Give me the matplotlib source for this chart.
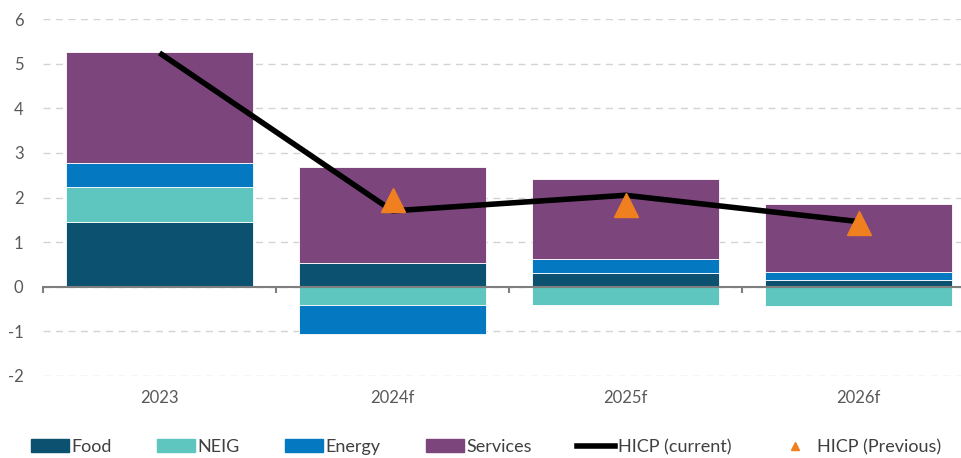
import numpy as np
import matplotlib.pyplot as plt
from matplotlib.patches import Patch
from matplotlib.lines import Line2D

plt.rcParams['font.family'] = ['Lato', 'DejaVu Sans']
plt.rcParams['axes.unicode_minus'] = False

# Contributions to HICP inflation (pp)
years = ['2023', '2024f', '2025f', '2026f']
food = [1.46, 0.53, 0.31, 0.16]
neig = [0.77, -0.40, -0.40, -0.43]
energy = [0.54, -0.65, 0.32, 0.18]
services = [2.48, 2.16, 1.78, 1.52]
hicp_current = [5.24, 1.70, 2.05, 1.46]
hicp_previous = [np.nan, 1.95, 1.83, 1.42]

series = [('Food', food, '#0c5270'),
          ('NEIG', neig, '#5ec5bf'),
          ('Energy', energy, '#0479c1'),
          ('Services', services, '#7c467c')]

fig = plt.figure(figsize=(9.62, 4.58), dpi=100)
ax = fig.add_axes([43/962, 1 - 376/458, 932/962, 357/458])

x = np.arange(len(years))
pos_base = np.zeros(len(years))
neg_base = np.zeros(len(years))
for name, vals, col in series:
    vals = np.array(vals)
    bottoms = np.where(vals >= 0, pos_base, neg_base)
    ax.bar(x, vals, width=0.8, bottom=bottoms, color=col, edgecolor='white', linewidth=0.6, zorder=2)
    pos_base += np.where(vals >= 0, vals, 0)
    neg_base += np.where(vals < 0, vals, 0)

ax.plot(x, hicp_current, color='black', lw=4, zorder=4, solid_capstyle='butt')
ax.plot(x, hicp_previous, ls='none', marker='^', ms=17, color='#f07f1f', zorder=5)

ax.set_xlim(-0.5, 3.5)
ax.set_ylim(-2, 6)
ax.set_yticks(range(-2, 7))
ax.yaxis.grid(True, color='#d3d3d3', ls=(0, (5, 4)), lw=1)
ax.set_axisbelow(True)
for s in ax.spines.values():
    s.set_visible(False)
ax.tick_params(axis='y', length=0, labelsize=12, labelcolor='#595959', pad=14)
ax.set_xticks(x)
ax.set_xticklabels(years)
ax.tick_params(axis='x', length=0, labelsize=12, labelcolor='#595959', pad=10)

# zero axis line with category separators
zero_ax = ax.secondary_xaxis(0.25)
zero_ax.set_zorder(3)
zero_ax.set_xticks([-0.5, 0.5, 1.5, 2.5, 3.5])
zero_ax.set_xticklabels([])
zero_ax.tick_params(length=4, width=1.5, color='#7f7f7f', direction='out')
zero_ax.spines['bottom'].set_color('#7f7f7f')
zero_ax.spines['bottom'].set_linewidth(1.5)

handles = [Patch(color=c) for _, _, c in series]
handles += [Line2D([0], [0], color='black', lw=4),
            Line2D([0], [0], ls='none', marker='^', ms=6, color='#f07f1f')]
labels = [n for n, _, _ in series] + ['HICP (current)', 'HICP (Previous)']
fig.legend(handles, labels, loc='center', bbox_to_anchor=(0.505, 1 - 447/458), ncol=6,
           frameon=False, handlelength=2.1, handletextpad=0.15, columnspacing=2.5,
           labelcolor='#404040', bbox_transform=fig.transFigure,
           prop={'family': ['Lato', 'DejaVu Sans'], 'size': 13})

fig.savefig('out.png', dpi=100)
